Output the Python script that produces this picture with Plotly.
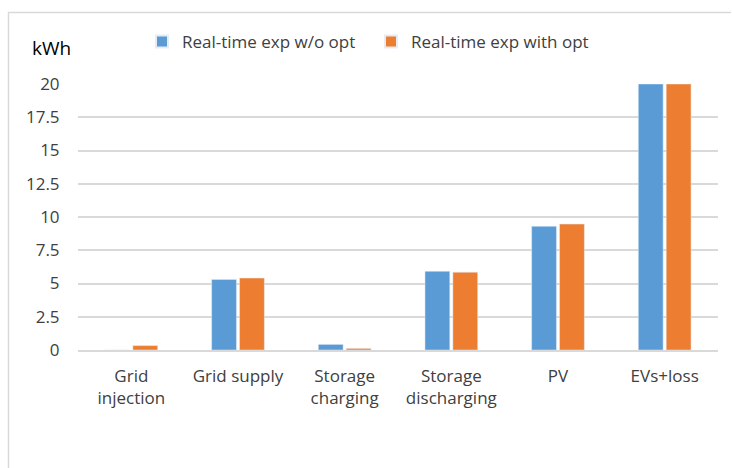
import plotly.graph_objects as go

categories = ["Grid<br>injection", "Grid supply", "Storage<br>charging",
              "Storage<br>discharging", "PV", "EVs+loss"]
without_opt = [0.0, 5.31, 0.42, 5.92, 9.3, 20.0]
with_opt = [0.33, 5.41, 0.12, 5.85, 9.47, 20.0]
series_names = ["Real-time exp w/o opt", "Real-time exp with opt"]
y_ticks = [0, 2.5, 5, 7.5, 10, 12.5, 15, 17.5, 20]
y_tick_labels = ["0", "2.5", "5", "7.5", "10", "12.5", "15", "17.5", "20"]

FONT = "Open Sans, Calibri, Carlito, Arial, sans-serif"
TXT = "#404040"

fig = go.Figure()
fig.add_trace(go.Bar(x=categories, y=without_opt, name=series_names[0],
                     marker=dict(color="#5B9BD5")))
fig.add_trace(go.Bar(x=categories, y=with_opt, name=series_names[1],
                     marker=dict(color="#ED7D31")))

W, H = 732, 468
L, R, T, B = 78, 14, 84, 118
pw, ph = W - L - R, H - T - B

def px_x(x):
    return (x - L) / pw

def px_y(y):
    return (H - B - y) / ph

fig.update_layout(
    width=W, height=H,
    margin=dict(l=L, r=R, t=T, b=B),
    paper_bgcolor="white", plot_bgcolor="white",
    barmode="group", bargap=0.477, bargroupgap=0.11,
    font=dict(family=FONT, size=17, color=TXT),
    showlegend=True,
    legend=dict(orientation="h", x=px_x(142), y=px_y(42), xanchor="left",
                yanchor="middle", font=dict(family=FONT, size=17, color=TXT),
                itemwidth=30, entrywidth=184, entrywidthmode="pixels",
                tracegroupgap=0, itemsizing="constant",
                bgcolor="rgba(0,0,0,0)"),
    xaxis=dict(showgrid=False, showline=True, linecolor="#d9d9d9", linewidth=1.5,
               ticks="outside", ticklen=10, tickcolor="rgba(0,0,0,0)",
               tickfont=dict(family=FONT, size=17, color=TXT), fixedrange=True),
    yaxis=dict(range=[0, 20], tickvals=y_ticks, ticktext=y_tick_labels,
               showgrid=True, gridcolor="#d9d9d9", gridwidth=1.5,
               zeroline=False, showline=False,
               ticks="outside", ticklen=14, tickcolor="rgba(0,0,0,0)",
               tickfont=dict(family=FONT, size=17, color=TXT), fixedrange=True),
    annotations=[dict(text="kWh", x=px_x(51), y=px_y(48), xref="paper", yref="paper",
                      showarrow=False, xanchor="center", yanchor="middle",
                      font=dict(family=FONT, size=19, color="#000000"))],
    shapes=[dict(type="path", xref="paper", yref="paper",
                 path=f"M {px_x(8.5)},{px_y(470)} L {px_x(8.5)},{px_y(12.5)} L {px_x(731)},{px_y(12.5)}",
                 line=dict(color="#d9d9d9", width=1.5), layer="below")],
)

fig.write_html("out.html", config={"displayModeBar": False},
               post_script="document.body.style.margin='0';document.body.style.overflow='hidden';")
